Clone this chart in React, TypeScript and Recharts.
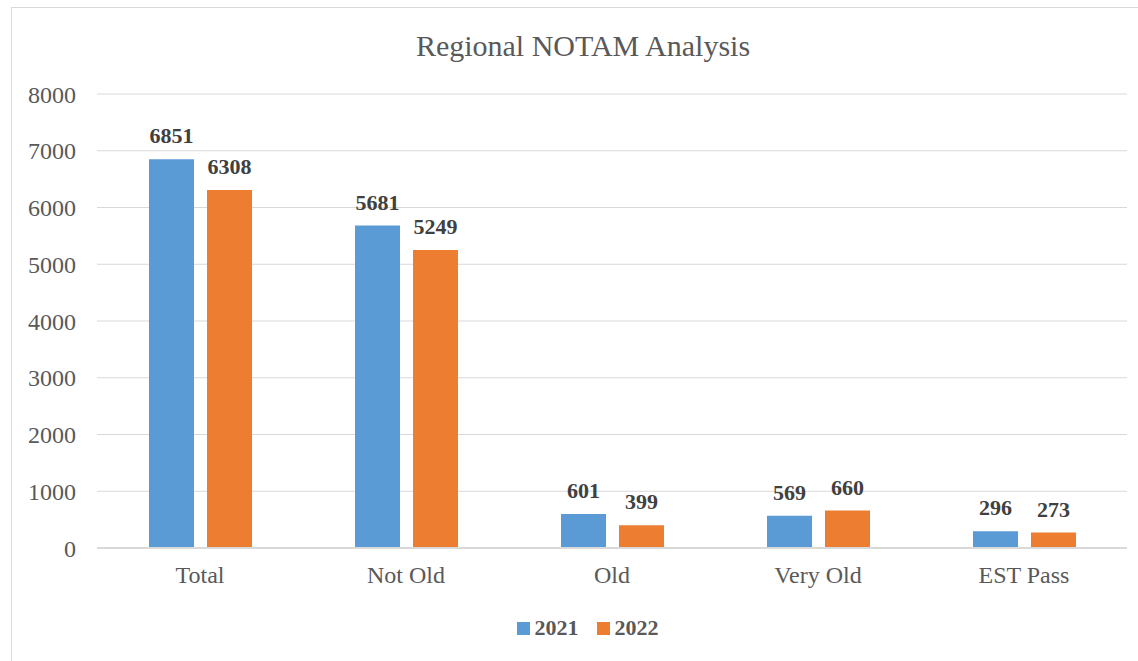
import React from 'react';
import { BarChart, Bar, XAxis, YAxis, CartesianGrid, LabelList } from 'recharts';

const categories = ['Total', 'Not Old', 'Old', 'Very Old', 'EST Pass'];
const values2021 = [6851, 5681, 601, 569, 296];
const values2022 = [6308, 5249, 399, 660, 273];
const yTicks = [0, 1000, 2000, 3000, 4000, 5000, 6000, 7000, 8000];

const BLUE = '#5B9BD5';
const ORANGE = '#ED7D31';
const FONT = '"Liberation Serif", "Times New Roman", serif';

const data = categories.map((name, i) => ({ name, y2021: values2021[i], y2022: values2022[i] }));

const labelStyle = { fill: '#404040', fontSize: 22, fontWeight: 700, fontFamily: FONT };

export default function App() {
  return (
    <div style={{ position: 'relative', width: 1138, height: 661, fontFamily: FONT }}>
      <style>{'body{margin:0;overflow:hidden;background:#fff}'}</style>
      <div
        style={{
          position: 'absolute',
          left: 11,
          top: 7,
          width: 1140,
          height: 670,
          border: '1px solid #d9d9d9',
          boxSizing: 'border-box',
        }}
      />
      <div
        style={{
          position: 'absolute',
          left: 0,
          top: 28,
          width: 1166,
          textAlign: 'center',
          fontSize: 30,
          color: '#595959',
          lineHeight: '36px',
        }}
      >
        Regional NOTAM Analysis
      </div>
      <div style={{ position: 'absolute', left: 0, top: 0 }}>
        <BarChart
          width={1138}
          height={661}
          data={data}
          margin={{ top: 94, right: 11, left: 0, bottom: 83 }}
          barSize={45}
          barGap={13}
        >
          <CartesianGrid vertical={false} stroke="#d9d9d9" />
          <XAxis
            dataKey="name"
            height={30}
            axisLine={{ stroke: '#d9d9d9', strokeWidth: 2 }}
            tickLine={false}
            tickMargin={12}
            tick={{ fill: '#595959', fontSize: 24, fontFamily: FONT }}
          />
          <YAxis
            width={97}
            domain={[0, 8000]}
            ticks={yTicks}
            axisLine={false}
            tickLine={false}
            tickMargin={15}
            tick={{ fill: '#595959', fontSize: 24, fontFamily: FONT }}
          />
          <Bar dataKey="y2021" name="2021" fill={BLUE} isAnimationActive={false}>
            <LabelList dataKey="y2021" position="top" offset={16} style={labelStyle} />
          </Bar>
          <Bar dataKey="y2022" name="2022" fill={ORANGE} isAnimationActive={false}>
            <LabelList dataKey="y2022" position="top" offset={16} style={labelStyle} />
          </Bar>
        </BarChart>
      </div>
      <div
        style={{
          position: 'absolute',
          left: 0,
          top: 613,
          width: 1175,
          display: 'flex',
          justifyContent: 'center',
          alignItems: 'center',
          fontSize: 22,
          fontWeight: 700,
          color: '#595959',
          lineHeight: '30px',
        }}
      >
        <span style={{ display: 'inline-block', width: 13, height: 13, background: BLUE, marginRight: 5 }} />
        <span style={{ marginRight: 18 }}>2021</span>
        <span style={{ display: 'inline-block', width: 13, height: 13, background: ORANGE, marginRight: 5 }} />
        <span>2022</span>
      </div>
    </div>
  );
}
